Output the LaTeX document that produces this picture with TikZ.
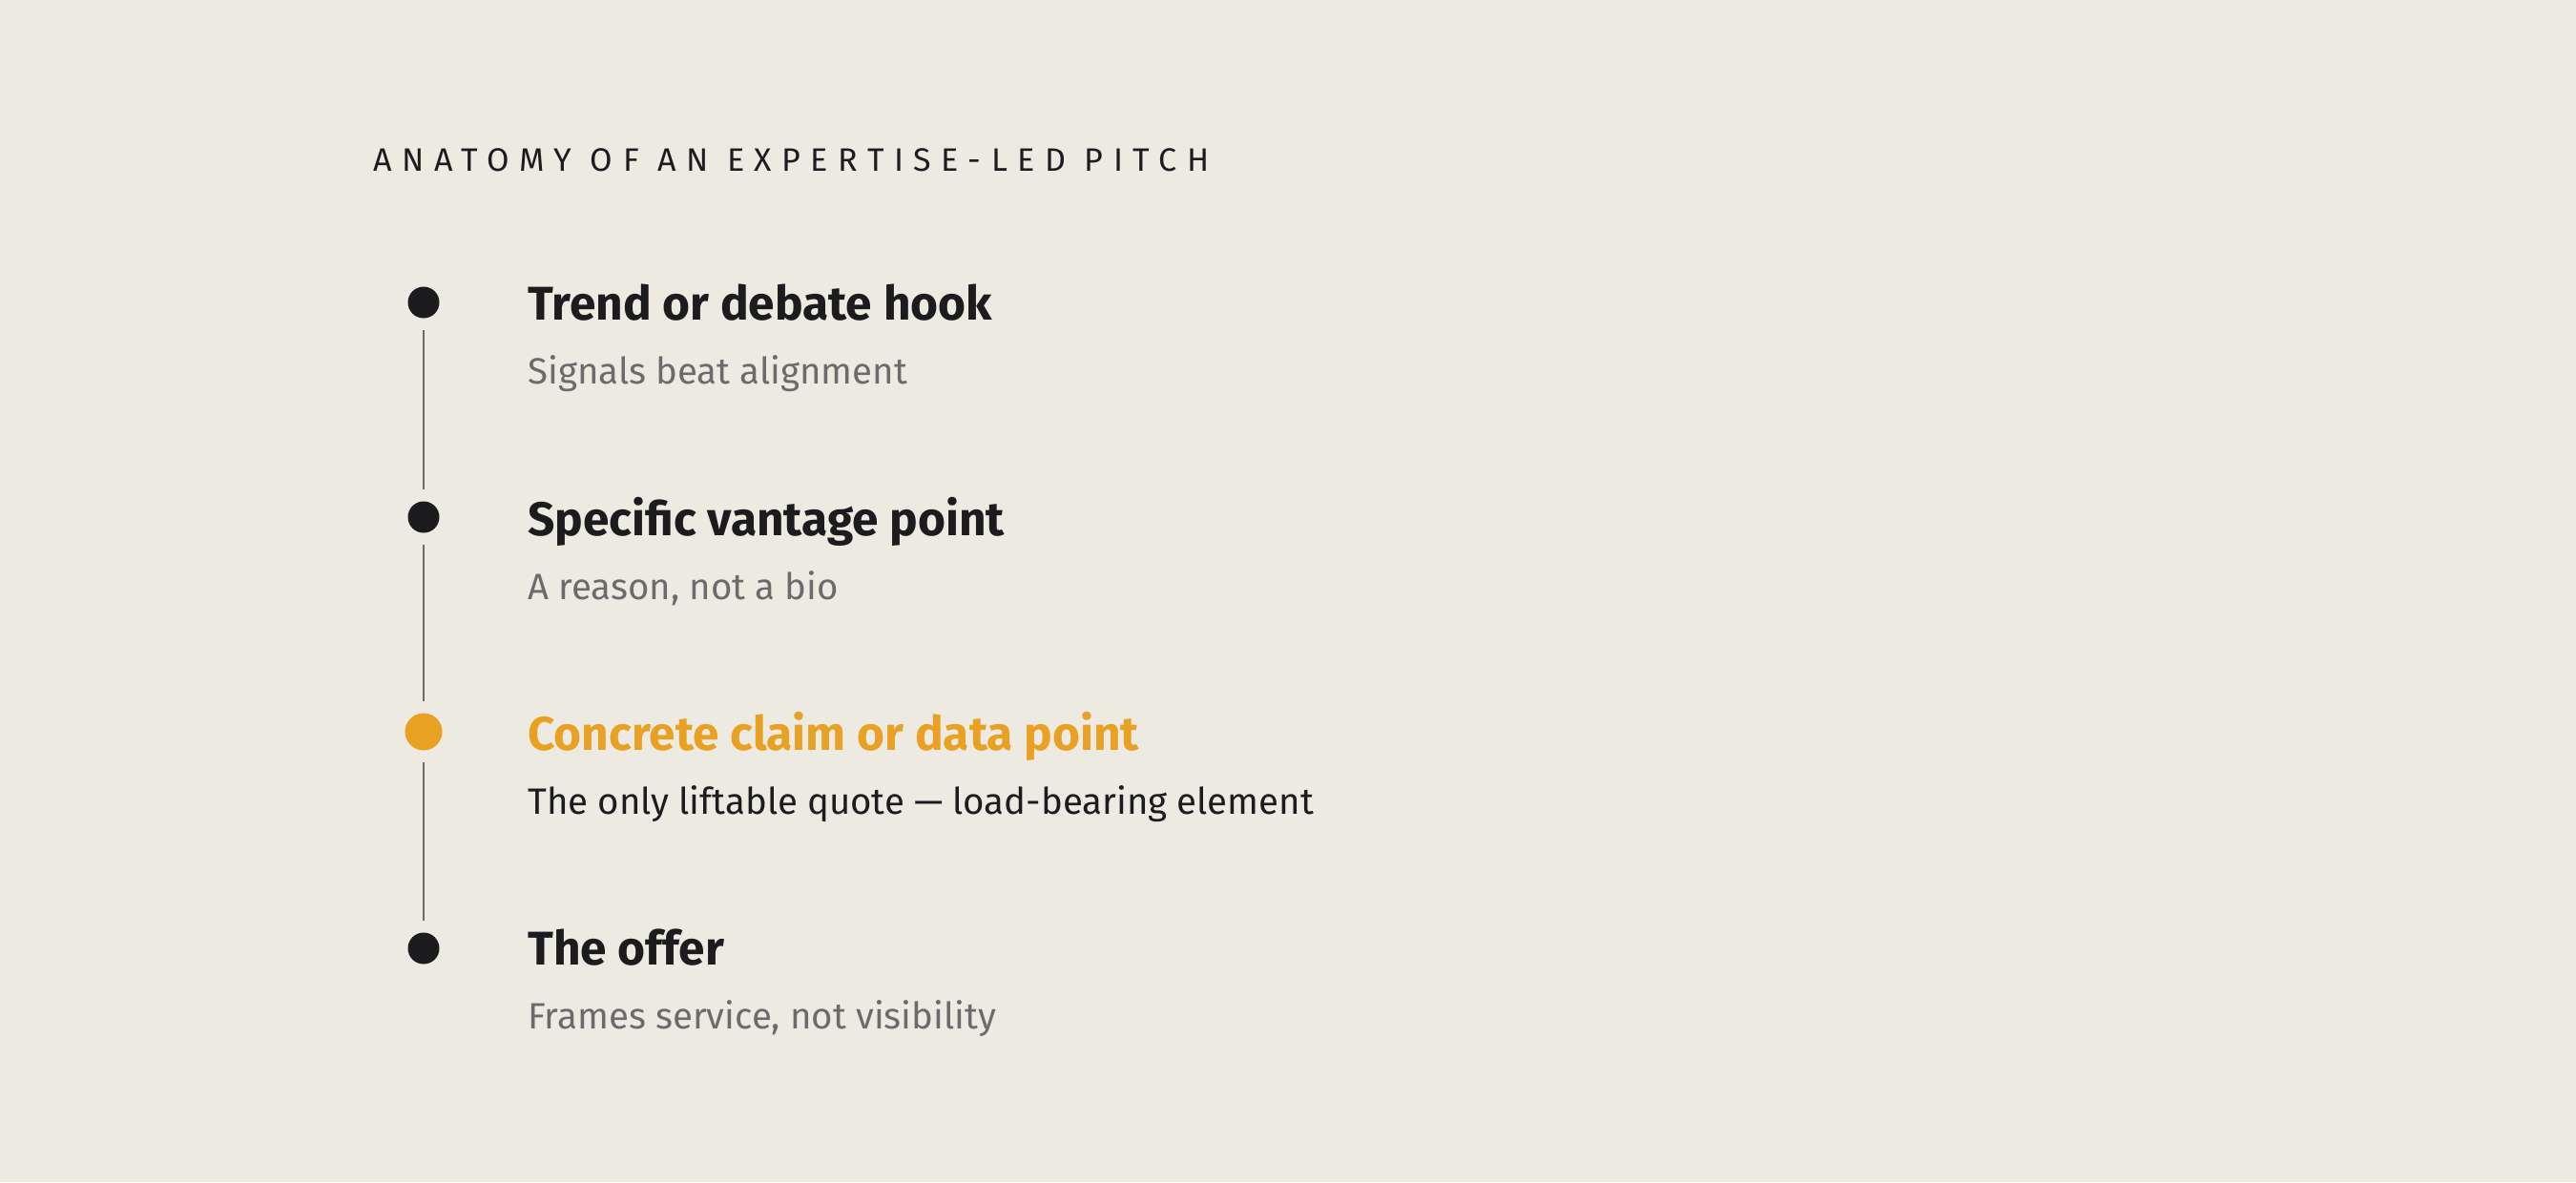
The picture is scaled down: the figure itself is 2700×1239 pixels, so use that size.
\documentclass[tikz,border=0pt]{standalone}
\usepackage{fontspec}
\setmainfont{Fira Sans}
\newfontfamily\titlefont[LetterSpace=31]{Fira Sans}
\definecolor{paper}{HTML}{EDEAE2}
\definecolor{ink}{HTML}{1C1C1E}
\definecolor{amber}{HTML}{E9A124}
\definecolor{muted}{HTML}{6B6B6B}
\tikzset{
  dot/.style={circle,fill=ink,inner sep=0pt,minimum size=16.5pt},
  hotdot/.style={circle,fill=amber,inner sep=0pt,minimum size=19.5pt},
  head/.style={anchor=base west,inner sep=0pt,text=ink,font=\fontsize{24.8}{29}\selectfont\bfseries},
  sub/.style={anchor=base west,inner sep=0pt,text=muted,font=\fontsize{19.2}{24}\selectfont},
  stem/.style={draw=muted,line width=1.25pt,shorten <=6pt,shorten >=6pt}
}
\begin{document}
\begin{tikzpicture}[x=0.5pt,y=-0.5pt]
\fill[paper] (0,0) rectangle (2700,1239);

\node[anchor=base west,inner sep=0pt,text=ink,font=\fontsize{17}{20}\selectfont\titlefont] (title) at (391,179) {ANATOMY OF AN EXPERTISE-LED PITCH};

\node[dot] (d1) at (444,317) {};
\node[dot] (d2) at (444,542) {};
\node[hotdot] (d3) at (444,767) {};
\node[dot] (d4) at (444,994) {};

\draw[stem] (d1) -- (d2);
\draw[stem] (d2) -- (d3);
\draw[stem] (d3) -- (d4);

\node[head] (h1) at (553,335) {Trend or debate hook};
\node[sub] (s1) at (553,402) {Signals beat alignment};
\node[head] (h2) at (553,561) {Specific vantage point};
\node[sub] (s2) at (553,628) {A reason, not a bio};
\node[head,text=amber] (h3) at (553,786) {Concrete claim or data point};
\node[sub,text=ink] (s3) at (553,853) {The only liftable quote — load-bearing element};
\node[head] (h4) at (553,1011) {The offer};
\node[sub] (s4) at (553,1078) {Frames service, not visibility};
\end{tikzpicture}
\end{document}
